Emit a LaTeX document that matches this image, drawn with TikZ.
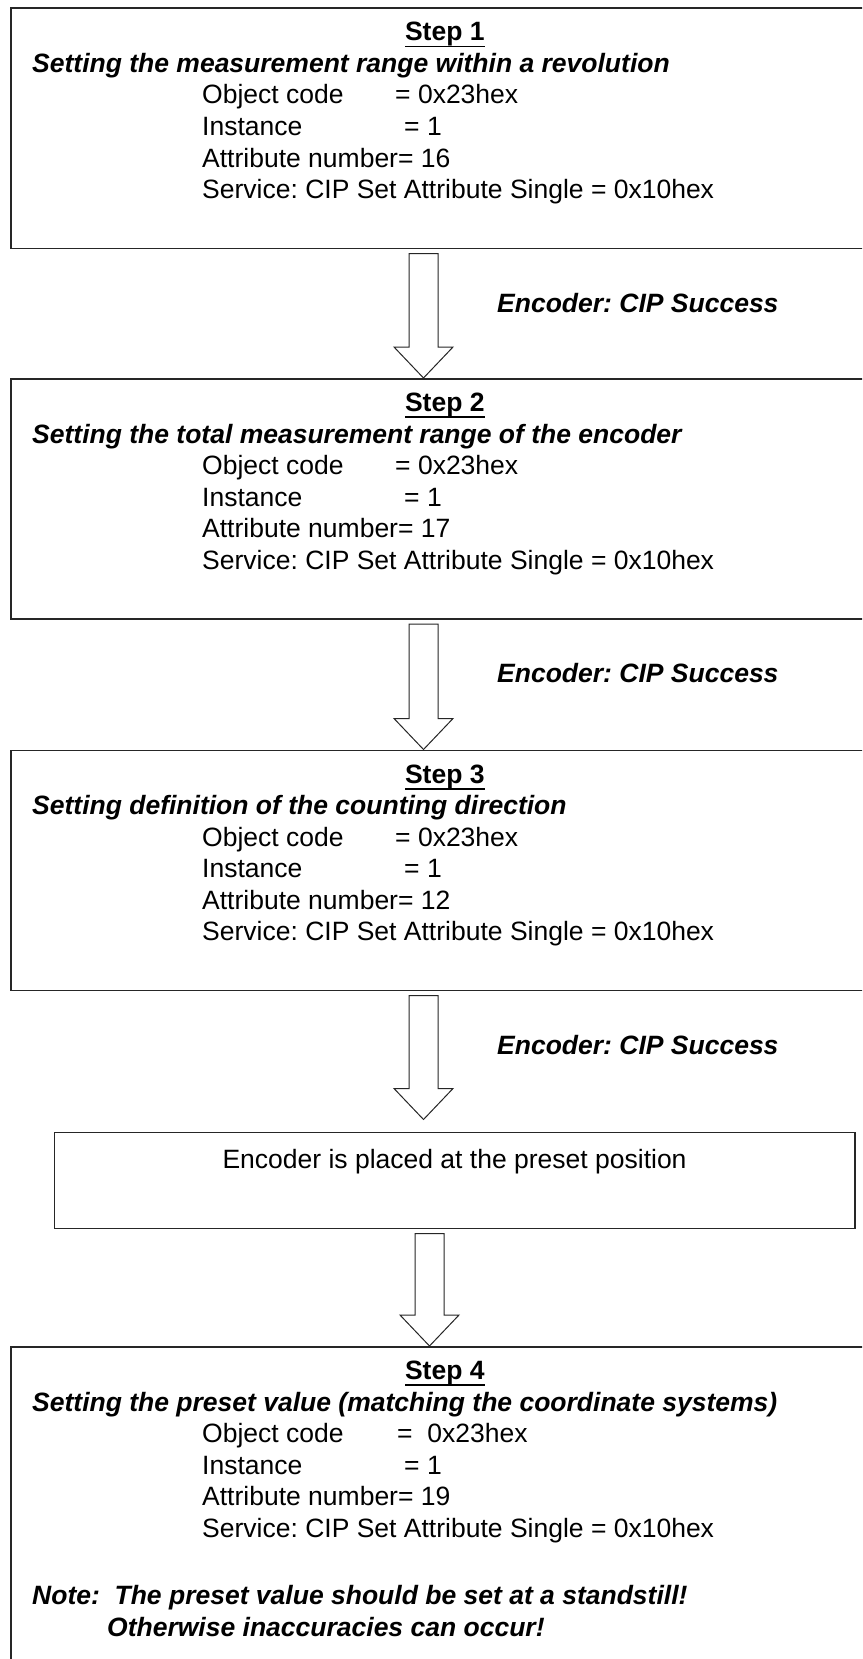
\documentclass[tikz,border=0pt]{standalone}
\usepackage{fontspec}
\setmainfont{Liberation Sans}
\usetikzlibrary{calc}
\frenchspacing

% underlined step title
\newcommand{\stepul}[1]{\setbox0=\hbox{#1}\rlap{\rule[-6.5pt]{\wd0}{1.8pt}}\box0}

% hollow block arrow: from node, to node, shaft x, gap above target
\newcommand{\hollowarrow}[4]{%
  \draw[hollow] let \p1=(#1.south), \p2=(#2.north) in
    (#3-14.5,\y1-4.5) -- (#3+14.5,\y1-4.5) -- (#3+14.5,\y2+#4+31) -- (#3+29.5,\y2+#4+31)
    -- (#3,\y2+#4) -- (#3-29.5,\y2+#4+31) -- (#3-14.5,\y2+#4+31) -- cycle;}

% title, heading and the four CIP lines of one step box
\newcommand{\stepcontent}[5]{%
  \node[ttl] (#1t) at ($(#1.north)+(0,-33.5)$) {\stepul{#2}};
  \node[hd] (#1h) at ($(#1.north west)+(22,-65)$) {#3};
  \node[txt] (#1a) at ($(#1.north west)+(192,-96.5)$) {\makebox[#5][l]{Object code}#4};
  \node[txt] (#1b) at ($(#1.north west)+(192,-128)$) {\makebox[202pt][l]{Instance}= 1};
  \node[txt] (#1c) at ($(#1.north west)+(192,-159.5)$) {Attribute number= \csname attr#1\endcsname};
  \node[txt] (#1d) at ($(#1.north west)+(192,-191)$) {Service: CIP Set Attribute Single = 0x10hex};}

\newcommand{\attrsa}{16}
\newcommand{\attrsb}{17}
\newcommand{\attrsc}{12}
\newcommand{\attrsd}{19}

\tikzset{
  stepbox/.style={draw=black!85, line width=1.6pt, rectangle, anchor=north west, inner sep=0pt},
  hollow/.style={draw=black!85, line width=1pt, fill=white, line join=miter},
  txt/.style={anchor=base west, inner sep=0pt, font=\fontsize{26.5}{31}\selectfont},
  ttl/.style={txt, anchor=base, font=\fontsize{26.5}{31}\selectfont\bfseries},
  hd/.style={txt, font=\fontsize{26.5}{31}\selectfont\bfseries\itshape},
}

\begin{document}
\begin{tikzpicture}[x=1pt, y=1pt]
  \useasboundingbox (0,0) rectangle (862,-1659);
  \clip (0,0) rectangle (862,-1659);

  % boxes
  \node[stepbox, minimum width=868pt, minimum height=240pt] (sa) at (10,-7.5) {};
  \node[stepbox, minimum width=868pt, minimum height=240pt] (sb) at (10,-378) {};
  \node[stepbox, minimum width=868pt, minimum height=240pt] (sc) at (10,-749.5) {};
  \node[stepbox, minimum width=800.5pt, minimum height=96pt] (pos) at (53.5,-1131.5) {};
  \node[stepbox, minimum width=868pt, minimum height=360pt] (sd) at (10,-1346) {};

  % texts
  \stepcontent{sa}{Step 1}{Setting the measurement range within a revolution}{= 0x23hex}{193pt}
  \stepcontent{sb}{Step 2}{Setting the total measurement range of the encoder}{= 0x23hex}{193pt}
  \stepcontent{sc}{Step 3}{Setting definition of the counting direction}{= 0x23hex}{193pt}
  \node[txt, anchor=base] (post) at ($(pos.north)+(0,-36.5)$) {Encoder is placed at the preset position};
  \stepcontent{sd}{Step 4}{Setting the preset value (matching the coordinate systems)}{=\ \ 0x23hex}{195pt}
  \node[hd] (note) at ($(sd.north west)+(22,-258)$) {Note:\ \ The preset value should be set at a standstill!};
  \node[hd] (note2) at ($(sd.north west)+(97,-290)$) {Otherwise inaccuracies can occur!};

  % arrows
  \hollowarrow{sa}{sb}{423.5}{0}
  \hollowarrow{sb}{sc}{423.5}{0}
  \hollowarrow{sc}{pos}{423.5}{12}
  \hollowarrow{pos}{sd}{429.5}{0}

  % answers
  \node[hd] (oka) at ($(sa.south west)+(487,-63)$) {Encoder: CIP Success};
  \node[hd] (okb) at ($(sb.south west)+(487,-63)$) {Encoder: CIP Success};
  \node[hd] (okc) at ($(sc.south west)+(487,-63)$) {Encoder: CIP Success};
\end{tikzpicture}
\end{document}
